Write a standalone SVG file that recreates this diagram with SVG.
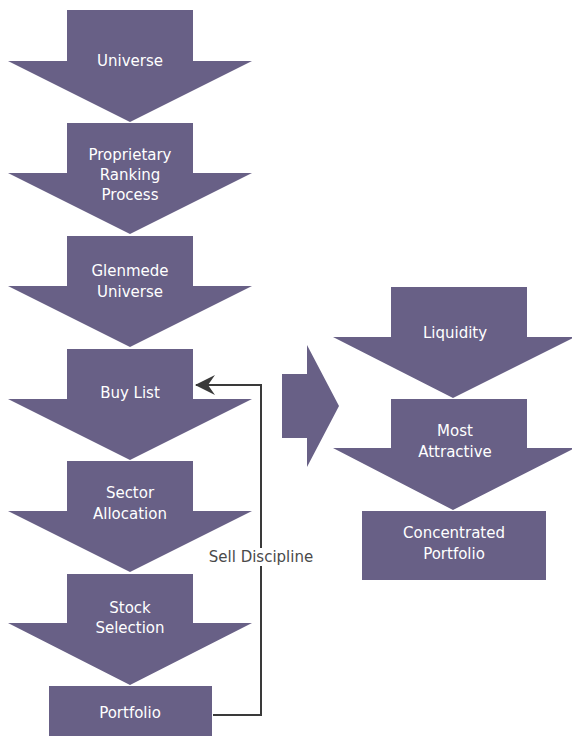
<svg xmlns="http://www.w3.org/2000/svg" width="572" height="736" viewBox="0 0 572 736">
<style>
.s{fill:#686086;}
.t{fill:#ffffff;font-family:"DejaVu Sans",Verdana,sans-serif;font-size:15px;text-anchor:middle;}
.l{fill:#4a4a4a;font-family:"DejaVu Sans",Verdana,sans-serif;font-size:15px;text-anchor:middle;}
.c{fill:none;stroke:#3a3a3a;stroke-width:2;}
</style>
<defs>
<marker id="ah" viewBox="0 0 20 20" refX="19" refY="10" markerWidth="20" markerHeight="20" markerUnits="userSpaceOnUse" orient="auto">
<path d="M20,10 L0,0 L7,10 L0,20 Z" fill="#3a3a3a"/>
</marker>
</defs>
<rect width="572" height="736" fill="#ffffff"/>
<g id="universe"><polygon class="s" points="67,10 193,10 193,61 252,61 130,122 8,61 67,61"/><text class="t" x="130" y="66">Universe</text></g>
<g id="ranking"><polygon class="s" points="67,123 193,123 193,173 252,173 130,234 8,173 67,173"/><text class="t" x="130" y="160">Proprietary</text><text class="t" x="130" y="180">Ranking</text><text class="t" x="130" y="200">Process</text></g>
<g id="glenmede"><polygon class="s" points="67,236 193,236 193,286 252,286 130,347 8,286 67,286"/><text class="t" x="130" y="276">Glenmede</text><text class="t" x="130" y="297">Universe</text></g>
<g id="buylist"><polygon class="s" points="67,349 193,349 193,399 252,399 130,460 8,399 67,399"/><text class="t" x="130" y="398">Buy List</text></g>
<g id="sector"><polygon class="s" points="67,461 193,461 193,511 252,511 130,572 8,511 67,511"/><text class="t" x="130" y="498">Sector</text><text class="t" x="130" y="519">Allocation</text></g>
<g id="stock"><polygon class="s" points="67,574 193,574 193,623 252,623 130,685 8,623 67,623"/><text class="t" x="130" y="613">Stock</text><text class="t" x="130" y="633">Selection</text></g>
<g id="portfolio"><rect class="s" x="49" y="686" width="163" height="50"/><text class="t" x="130" y="718">Portfolio</text></g>
<g id="bigarrow"><polygon class="s" points="282,374 307,374 307,345 339,406 307,467 307,438 282,438"/></g>
<g id="liquidity"><polygon class="s" points="391,287 527,287 527,337 575,337 453,398 333,337 391,337"/><text class="t" x="455" y="338">Liquidity</text></g>
<g id="attractive"><polygon class="s" points="391,399 527,399 527,448 575,448 453,510 333,448 391,448"/><text class="t" x="455" y="436">Most</text><text class="t" x="455" y="457">Attractive</text></g>
<g id="concentrated"><rect class="s" x="362" y="511" width="184" height="69"/><text class="t" x="454" y="538">Concentrated</text><text class="t" x="454" y="559">Portfolio</text></g>
<g id="connectors">
<polyline class="c" points="213,715 261,715 261,385 196,385" marker-end="url(#ah)"/>
<rect x="202" y="548" width="118" height="18" fill="#ffffff"/>
<text class="l" x="261" y="562">Sell Discipline</text>
</g>
</svg>
